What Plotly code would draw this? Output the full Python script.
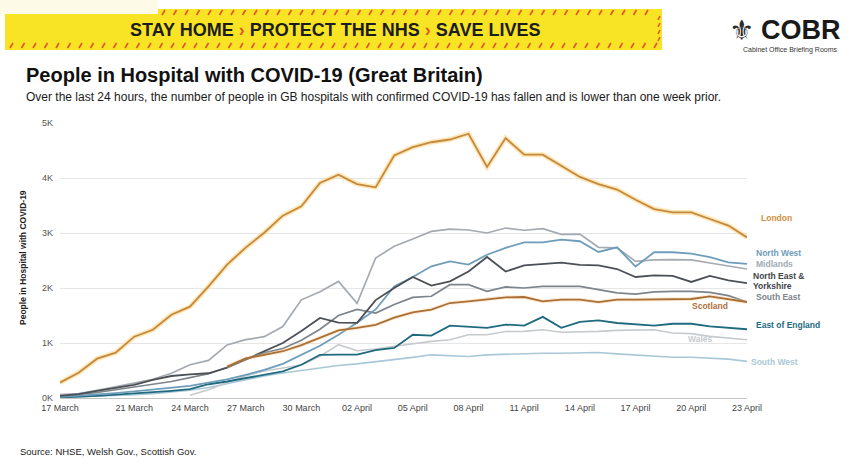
import plotly.graph_objects as go
import pandas as pd

# ---------------- data ----------------
dates = pd.date_range("2020-03-17", "2020-04-23", freq="D")

london = [280, 460, 715, 825, 1115, 1240, 1515, 1660, 2030, 2425, 2735, 3005, 3315, 3485, 3910, 4060, 3890, 3830,
          4410, 4560, 4650, 4700, 4805, 4200, 4725, 4425, 4425, 4230, 4020, 3890, 3790, 3605, 3435, 3375, 3375,
          3255, 3135, 2920]
north_west = [20, 40, 60, 90, 120, 150, 180, 220, 280, 340, 420, 510, 620, 780, 950, 1150, 1370, 1610, 2030, 2200,
              2395, 2485, 2425, 2605, 2730, 2830, 2830, 2880, 2850, 2655, 2740, 2390, 2650, 2650, 2625, 2560, 2465,
              2440]
midlands = [60, 80, 140, 200, 270, 340, 450, 605, 684, 965, 1060, 1115, 1300, 1785, 1930, 2120, 1720, 2545, 2760,
            2890, 3030, 3070, 3055, 3000, 3090, 3050, 3080, 2975, 2980, 2740, 2730, 2485, 2510, 2515, 2510, 2455,
            2395, 2345]
ne_yorkshire = [40, 70, 130, 180, 240, 330, 400, 430, 450, 550, 700, 850, 1000, 1220, 1455, 1370, 1365, 1780, 2000,
                2200, 2045, 2120, 2300, 2565, 2300, 2410, 2430, 2460, 2420, 2410, 2345, 2200, 2230, 2220, 2110, 2220,
                2140, 2090]
south_east = [30, 60, 100, 150, 200, 260, 300, 370, 440, 560, 700, 820, 900, 1050, 1250, 1500, 1610, 1545, 1700,
              1830, 1850, 2060, 2060, 1940, 2020, 2000, 2030, 2030, 2030, 1970, 1910, 1890, 1930, 1940, 1940, 1920,
              1860, 1745]
scotland = [None, None, None, None, None, None, None, None, None, 570, 720, 785, 850, 960, 1100, 1230, 1275, 1330,
            1460, 1555, 1606, 1727, 1757, 1788, 1830, 1836, 1757, 1788, 1788, 1745, 1788, 1788, 1788, 1788, 1800,
            1848, 1800, 1745]
east_england = [10, 20, 40, 60, 80, 100, 130, 160, 250, 300, 360, 425, 485, 605, 785, 790, 790, 870, 910, 1150,
                1135, 1315, 1300, 1275, 1335, 1315, 1475, 1275, 1385, 1412, 1364, 1333, 1315, 1350, 1350, 1303,
                1273, 1250]
wales = [None, None, None, None, None, None, None, 50, 150, 280, 400, 490, 540, 600, 760, 970, 860, 890, 940, 987,
         1030, 1060, 1150, 1150, 1210, 1212, 1240, 1195, 1200, 1212, 1230, 1230, 1242, 1182, 1170, 1121, 1091, 1060]
south_west = [10, 20, 30, 40, 60, 80, 110, 140, 190, 260, 330, 400, 455, 500, 545, 590, 620, 655, 700, 738, 785,
              767, 755, 785, 797, 803, 815, 815, 827, 827, 803, 785, 767, 742, 742, 724, 706, 665]

tick_dates = ["2020-03-17", "2020-03-21", "2020-03-24", "2020-03-27", "2020-03-30", "2020-04-02", "2020-04-05",
              "2020-04-08", "2020-04-11", "2020-04-14", "2020-04-17", "2020-04-20", "2020-04-23"]
tick_labels = ["17 March", "21 March", "24 March", "27 March", "30 March", "02 April", "05 April", "08 April",
               "11 April", "14 April", "17 April", "20 April", "23 April"]
y_ticks = [0, 1000, 2000, 3000, 4000, 5000]
y_tick_labels = ["0K", "1K", "2K", "3K", "4K", "5K"]

# ---------------- geometry helpers (pixel -> paper) ----------------
W, H = 850, 466
L, R, T, B = 60, 747, 123, 398


def px(x):
    return (x - L) / (R - L)


def py(y):
    return (B - y) / (B - T)


SANS = "Liberation Sans, Arial, sans-serif"

fig = go.Figure()

series = [
    ("South West", south_west, "#a9c8d7", 1.6),
    ("Wales", wales, "#c6cacd", 1.6),
    ("Midlands", midlands, "#a4aab0", 1.7),
    ("South East", south_east, "#7d848b", 1.7),
    ("East of England", east_england, "#1f6a7f", 1.8),
    ("North West", north_west, "#6e9dba", 1.8),
    ("North East & Yorkshire", ne_yorkshire, "#4b5056", 1.8),
]

for name, vals, col, w in series:
    fig.add_trace(go.Scatter(x=dates, y=vals, mode="lines", name=name,
                             line=dict(color=col, width=w), connectgaps=False))

# Scotland with a soft glow
fig.add_trace(go.Scatter(x=dates, y=scotland, mode="lines", showlegend=False, hoverinfo="skip",
                         line=dict(color="rgba(250,200,140,0.35)", width=4)))
fig.add_trace(go.Scatter(x=dates, y=scotland, mode="lines", name="Scotland",
                         line=dict(color="#a96f36", width=1.8)))
# London with glow
fig.add_trace(go.Scatter(x=dates, y=london, mode="lines", showlegend=False, hoverinfo="skip",
                         line=dict(color="rgba(252,214,130,0.55)", width=5)))
fig.add_trace(go.Scatter(x=dates, y=london, mode="lines", name="London",
                         line=dict(color="#c5883d", width=1.8)))

shapes = []
annotations = []

# ---------------- banner ----------------
shapes.append(dict(type="rect", xref="paper", yref="paper", x0=px(5), x1=px(662), y0=py(9), y1=py(50),
                   fillcolor="#f8e425", line=dict(width=0), layer="below"))
shapes.append(dict(type="rect", xref="paper", yref="paper", x0=px(0), x1=px(158), y0=py(0), y1=py(14),
                   fillcolor="#fdfbe8", line=dict(width=0), layer="below"))
stripe_col = "#e0542a"
xs = 162
while xs < 655:
    shapes.append(dict(type="line", xref="paper", yref="paper", x0=px(xs), y0=py(15), x1=px(xs + 3), y1=py(10),
                       line=dict(color=stripe_col, width=1.6)))
    xs += 11.5
xs = 10
while xs < 655:
    shapes.append(dict(type="line", xref="paper", yref="paper", x0=px(xs), y0=py(48), x1=px(xs + 3), y1=py(43),
                       line=dict(color=stripe_col, width=1.6)))
    xs += 11.5
ys = 16
while ys < 42:
    shapes.append(dict(type="line", xref="paper", yref="paper", x0=px(658), y0=py(ys + 4), x1=px(660), y1=py(ys),
                       line=dict(color=stripe_col, width=1.6)))
    ys += 7

annotations.append(dict(xref="paper", yref="paper", x=px(335), y=py(30), xanchor="center", yanchor="middle",
                        showarrow=False,
                        text="STAY HOME <span style='color:#e8561f'>›</span> PROTECT THE NHS "
                             "<span style='color:#e8561f'>›</span> SAVE LIVES",
                        font=dict(family=SANS, size=18, color="#1c1c1c", weight="bold")))

# ---------------- COBR logo ----------------
annotations.append(dict(xref="paper", yref="paper", x=px(741), y=py(30), xanchor="center", yanchor="middle",
                        showarrow=False, text="⚜", font=dict(family="DejaVu Sans", size=28, color="#2b2b2b")))
annotations.append(dict(xref="paper", yref="paper", x=px(759), y=py(30), xanchor="left", yanchor="middle",
                        showarrow=False, text="<b>COBR</b>",
                        font=dict(family=SANS, size=27, color="#1a1a1a")))
annotations.append(dict(xref="paper", yref="paper", x=px(790), y=py(50), xanchor="center", yanchor="middle",
                        showarrow=False, text="Cabinet Office Briefing Rooms",
                        font=dict(family=SANS, size=7, color="#333333")))

# ---------------- titles ----------------
annotations.append(dict(xref="paper", yref="paper", x=px(24), y=py(75), xanchor="left", yanchor="middle",
                        showarrow=False, text="<b>People in Hospital with COVID-19 (Great Britain)</b>",
                        font=dict(family=SANS, size=20, color="#111111")))
annotations.append(dict(xref="paper", yref="paper", x=px(24), y=py(97), xanchor="left", yanchor="middle",
                        showarrow=False,
                        text="Over the last 24 hours, the number of people in GB hospitals with confirmed COVID-19 "
                             "has fallen and is lower than one week prior.",
                        font=dict(family=SANS, size=12, color="#1a1a1a")))
annotations.append(dict(xref="paper", yref="paper", x=px(23), y=py(258), xanchor="center", yanchor="middle",
                        showarrow=False, textangle=-90, text="<b>People in Hospital with COVID-19</b>",
                        font=dict(family=SANS, size=8.5, color="#222222")))
annotations.append(dict(xref="paper", yref="paper", x=px(18), y=py(451), xanchor="left", yanchor="middle",
                        showarrow=False, text="Source: NHSE, Welsh Gov., Scottish Gov.",
                        font=dict(family=SANS, size=9.5, color="#222222")))

# ---------------- series labels ----------------
labels = [
    ("London", 759, 218, "#d38d3e"),
    ("North West", 754, 253, "#6e9dba"),
    ("Midlands", 754, 264, "#a4aab0"),
    ("North East &", 751, 276, "#3f4449"),
    ("Yorkshire", 751, 286, "#3f4449"),
    ("South East", 754, 297, "#7d848b"),
    ("Scotland", 690, 306, "#b0703a"),
    ("East of England", 754, 325, "#1f6a7f"),
    ("Wales", 686, 339, "#c6cacd"),
    ("South West", 749, 362, "#a9c8d7"),
]
for txt, x, y, c in labels:
    annotations.append(dict(xref="paper", yref="paper", x=px(x), y=py(y), xanchor="left", yanchor="middle",
                            showarrow=False, text="<b>" + txt + "</b>",
                            font=dict(family=SANS, size=8.5, color=c)))

fig.update_layout(
    width=W, height=H,
    margin=dict(l=L, r=W - R, t=T, b=H - B, pad=0),
    paper_bgcolor="white", plot_bgcolor="white",
    showlegend=False,
    shapes=shapes, annotations=annotations,
    xaxis=dict(type="date", range=["2020-03-17", "2020-04-23"], tickvals=tick_dates, ticktext=tick_labels,
               showgrid=False, zeroline=False, showline=False, ticks="", ticklabelstandoff=3,
               tickfont=dict(family=SANS, size=9, color="#444444")),
    yaxis=dict(range=[0, 5000], tickvals=y_ticks, ticktext=y_tick_labels, showgrid=True,
               gridcolor="#e6e6e6", gridwidth=1, zeroline=True, zerolinecolor="#c4c4c4", zerolinewidth=1.2,
               showline=False, ticks="", ticklabelstandoff=6,
               tickfont=dict(family=SANS, size=9, color="#555555")),
)

fig.write_html("out.html", config={"displayModeBar": False},
               post_script="document.body.style.margin='0px';")
